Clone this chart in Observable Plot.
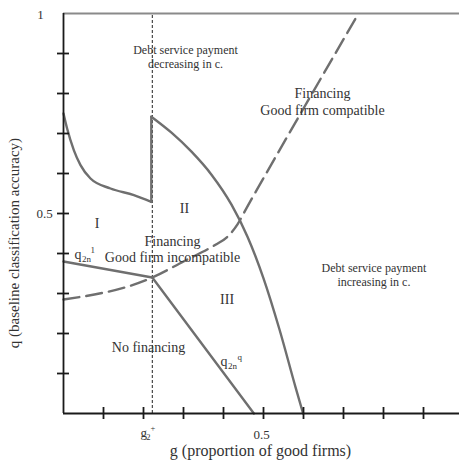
<!DOCTYPE html>
<html>
<head>
<meta charset="utf-8">
<script src="https://cdn.jsdelivr.net/npm/d3@7"></script>
<script src="https://cdn.jsdelivr.net/npm/@observablehq/plot@0.6"></script>
<style>
  html, body { margin: 0; padding: 0; background: #fff; }
  svg { display: block; }
  svg text { font-family: "Liberation Serif", "DejaVu Serif", serif !important; }
</style>
</head>
<body>
<div id="chart"></div>
<script>
// ---- data ----
const g2plus = 0.222;
const xTicks = [0.1, 0.2, 0.3, 0.4, 0.5, 0.6, 0.7, 0.8, 0.9];
const yTicks = [0.1, 0.2, 0.3, 0.4, 0.5, 0.6, 0.7, 0.8, 0.9];

// Curve bounding region I (convex, decreasing)
const curveIG = [0, 0.009, 0.026, 0.0425, 0.0675, 0.1175, 0.176, 0.2195];
const curveIQ = [0.75, 0.7125, 0.658, 0.621, 0.5875, 0.5625, 0.546, 0.529];
// vertical jump at g2+
const jumpG = [0.2195, 0.2195];
const jumpQ = [0.529, 0.742];
// Curve bounding region II (concave, decreasing)
const curveIIG = [0.2195, 0.27, 0.32, 0.37, 0.42, 0.46, 0.50, 0.54, 0.58, 0.599];
const curveIIQ = [0.742, 0.702, 0.6545, 0.597, 0.522, 0.442, 0.338, 0.21, 0.066, 0];
// q2n^1 line and q2n^q line
const q2n1G = [0, 0.222];
const q2n1Q = [0.38, 0.34];
const q2nqG = [0.222, 0.476];
const q2nqQ = [0.34, 0];
// dashed boundary (good firm compatible / incompatible)
const dashG = [0, 0.222, 0.30, 0.38, 0.41, 0.435, 0.46, 0.485, 0.7375];
const dashQ = [0.285, 0.34, 0.38, 0.422, 0.442, 0.473, 0.518, 0.562, 1.0];

// text labels
const regionLabels = ["I", "II", "III"];
const regionG = [0.084, 0.3025, 0.409];
const regionQ = [0.476, 0.512, 0.2845];

const bigLabels = ["Financing\nGood firm compatible", "Financing\nGood firm incompatible", "No financing"];
const bigG = [0.6475, 0.2725, 0.2125];
const bigQ = [0.78, 0.412, 0.166];

const smallLabels = ["Debt service payment\ndecreasing in c.", "Debt service payment\nincreasing in c."];
const smallG = [0.305, 0.776];
const smallQ = [0.893, 0.348];

const xLabel = "g (proportion of good firms)";
const yLabel = "q (baseline classification accuracy)";

// ---- helpers ----
const pts = (gs, qs) => gs.map((g, i) => ({g, q: qs[i]}));
const lbl = (ts, gs, qs) => ts.map((t, i) => ({t, g: gs[i], q: qs[i]}));

const FONT = "Liberation Serif";
const GREY = "#6f6f6f";
const AX = "#1a1a1a";
const TXT = "#333";
const T = (o) => Object.assign({fontFamily: FONT, fill: TXT}, o);

const chart = Plot.plot({
  width: 459,
  height: 469,
  marginLeft: 63,
  marginRight: 0,
  marginTop: 13,
  marginBottom: 56,
  style: {fontFamily: FONT, background: "#fff"},
  x: {domain: [0, 0.99], axis: null},
  y: {domain: [0, 1], axis: null},
  marks: [
    // top boundary q = 1
    Plot.ruleY([1], {stroke: "#8a8a8a", strokeWidth: 2}),
    // dotted g2+ line
    Plot.ruleX([g2plus], {y1: 0, y2: 1, stroke: "#222", strokeWidth: 1, strokeDasharray: "3,2"}),
    // curves
    Plot.line(pts(curveIG, curveIQ), {x: "g", y: "q", curve: "monotone-x", stroke: GREY, strokeWidth: 2.4}),
    Plot.line(pts(jumpG, jumpQ), {x: "g", y: "q", stroke: GREY, strokeWidth: 2.4}),
    Plot.line(pts(curveIIG, curveIIQ), {x: "g", y: "q", curve: "monotone-x", stroke: GREY, strokeWidth: 2.4}),
    Plot.line(pts(q2n1G, q2n1Q), {x: "g", y: "q", stroke: GREY, strokeWidth: 2.4}),
    Plot.line(pts(q2nqG, q2nqQ), {x: "g", y: "q", stroke: GREY, strokeWidth: 2.4}),
    Plot.line(pts(dashG, dashQ), {x: "g", y: "q", curve: "monotone-x", stroke: GREY, strokeWidth: 2.4, strokeDasharray: "16,7"}),
    // axes
    Plot.ruleY([0], {stroke: AX, strokeWidth: 1.8}),
    Plot.ruleX([0], {y1: 0, y2: 1, stroke: AX, strokeWidth: 1.8}),
    Plot.ruleY(yTicks, {y: d => d, x1: -0.015, x2: 0.015, stroke: AX, strokeWidth: 1.8}),
    Plot.ruleX(xTicks, {x: d => d, y1: -0.015, y2: 0.015, stroke: AX, strokeWidth: 1.8}),
    // tick labels
    Plot.text(["1"], T({x: 0, y: 1, dx: -23, dy: 1, fontSize: 13})),
    Plot.text(["0.5"], T({x: 0, y: 0.5, dx: -19, fontSize: 13})),
    Plot.text(["0.5"], T({x: 0.5, y: 0, dx: -2, dy: 21, fontSize: 13})),
    Plot.text(["g"], T({x: g2plus, y: 0, dx: -8.5, dy: 19, fontSize: 13})),
    Plot.text(["2"], T({x: g2plus, y: 0, dx: -4, dy: 24, fontSize: 8.5})),
    Plot.text(["+"], T({x: g2plus, y: 0, dx: 0.5, dy: 15, fontSize: 8.5})),
    // axis titles
    Plot.text([xLabel], T({x: 0.4925, y: 0, dy: 37, fontSize: 16})),
    Plot.text([yLabel], T({x: 0, y: 0.426, dx: -49, rotate: -90, fontSize: 15})),
    // region labels
    Plot.text(lbl(regionLabels, regionG, regionQ), T({x: "g", y: "q", text: "t", fontSize: 14})),
    Plot.text(lbl(bigLabels, bigG, bigQ), T({x: "g", y: "q", text: "t", fontSize: 14, lineHeight: 1.2})),
    Plot.text(lbl(smallLabels, smallG, smallQ), T({x: "g", y: "q", text: "t", fontSize: 12, lineHeight: 1.2})),
    // q_{2n}^{1}
    Plot.text(["q"], T({x: 0, y: 0.4, dx: 11, dy: 1, textAnchor: "start", fontSize: 14})),
    Plot.text(["2n"], T({x: 0, y: 0.4, dx: 18.5, dy: 6, textAnchor: "start", fontSize: 9})),
    Plot.text(["1"], T({x: 0, y: 0.4, dx: 27, dy: -3, textAnchor: "start", fontSize: 9})),
    // q_{2n}^{q}
    Plot.text(["q"], T({x: 0.3925, y: 0.131, textAnchor: "start", fontSize: 14})),
    Plot.text(["2n"], T({x: 0.3925, y: 0.131, dx: 7.5, dy: 5, textAnchor: "start", fontSize: 9})),
    Plot.text(["q"], T({x: 0.3925, y: 0.131, dx: 17, dy: -4, textAnchor: "start", fontSize: 9}))
  ]
});
document.getElementById("chart").appendChild(chart);
</script>
</body>
</html>
